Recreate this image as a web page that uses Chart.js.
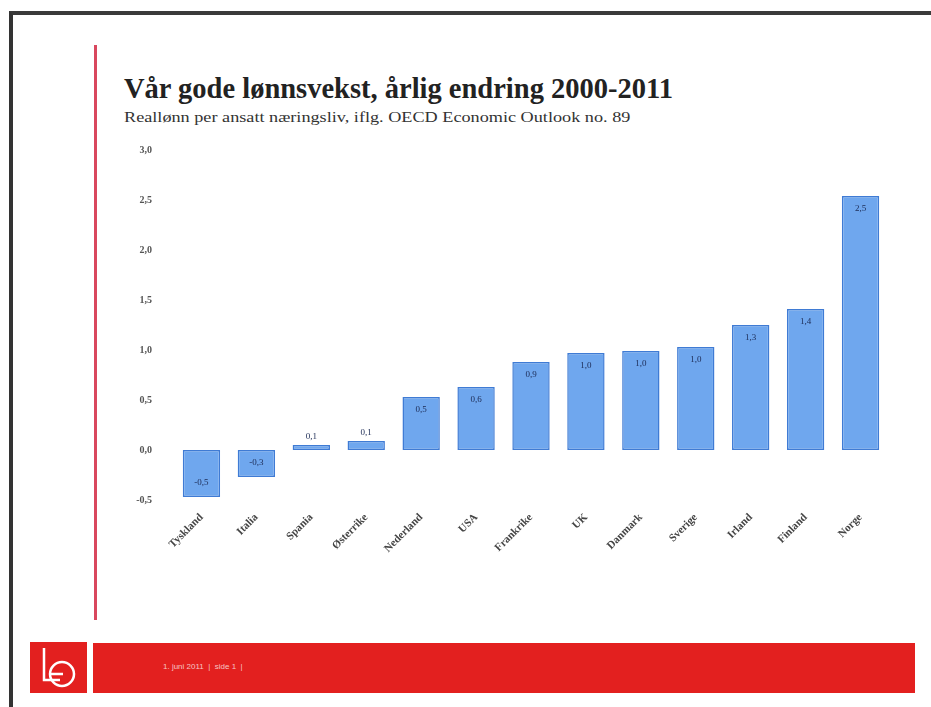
<!DOCTYPE html>
<html>
<head>
<meta charset="utf-8">
<script src="https://cdn.jsdelivr.net/npm/chart.js@4"></script>
<style>
  body { margin: 0; background: #fff; width: 931px; height: 707px; overflow: hidden; position: relative; font-family: "Liberation Serif", serif; }
  .frame { position: absolute; left: 9px; top: 11px; width: 940px; height: 692px; border-left: 4px solid #333; border-top: 4px solid #3a3a3a; border-bottom: 1px solid #999; }
  .redline { position: absolute; left: 94px; top: 45px; width: 3px; height: 575px; background: #d9475e; }
  .title { position: absolute; left: 124px; top: 73px; font-size: 28.5px; font-weight: bold; color: #222; white-space: nowrap; }
  .subtitle { position: absolute; left: 124px; top: 110px; font-size: 14px; color: #333; white-space: nowrap; transform: scaleX(1.3); transform-origin: left top; }
  .logo { position: absolute; left: 30px; top: 642px; width: 57px; height: 51px; background: #e3201f; }
  .band { position: absolute; left: 93px; top: 643px; width: 822px; height: 50px; background: #e3201f; }
  .band span { position: absolute; left: 70px; top: 19px; font-size: 8px; color: #f6c3c3; font-family: "Liberation Sans", sans-serif; }
  #wrap { position: absolute; left: 110px; top: 130px; width: 790px; height: 450px; }
</style>
</head>
<body>
<div class="frame"></div>
<div class="redline"></div>
<div class="title">Vår gode lønnsvekst, årlig endring 2000-2011</div>
<div class="subtitle">Reallønn per ansatt næringsliv, iflg. OECD Economic Outlook no. 89</div>
<div class="logo">
  <svg width="57" height="51" viewBox="0 0 57 51">
    <path d="M14 6 V38 H30" fill="none" stroke="#fff" stroke-width="2.5"/>
    <circle cx="32" cy="32" r="12" fill="none" stroke="#fff" stroke-width="2.5"/>
    <path d="M20 32 H33" stroke="#fff" stroke-width="2.5"/>
  </svg>
</div>
<div class="band"><span>1. juni 2011 &nbsp;|&nbsp; side 1 &nbsp;|</span></div>
<div id="wrap"><canvas id="lonnChart"></canvas></div>
<script>
const countries = ['Tyskland', 'Italia', 'Spania', 'Østerrike', 'Nederland', 'USA', 'Frankrike', 'UK', 'Danmark', 'Sverige', 'Irland', 'Finland', 'Norge'];
const growth = [-0.47, -0.27, 0.05, 0.09, 0.53, 0.63, 0.88, 0.97, 0.99, 1.03, 1.25, 1.41, 2.54];
const growthLabels = ['-0,5', '-0,3', '0,1', '0,1', '0,5', '0,6', '0,9', '1,0', '1,0', '1,0', '1,3', '1,4', '2,5'];
const yTicks = [-0.5, 0, 0.5, 1.0, 1.5, 2.0, 2.5, 3.0];

const fmt = v => v.toFixed(1).replace('.', ',');

// small value labels in / over the bars
const barLabels = {
  id: 'barLabels',
  afterDatasetsDraw(chart) {
    const ctx = chart.ctx;
    const meta = chart.getDatasetMeta(0);
    ctx.save();
    ctx.font = '9px "Liberation Serif", serif';
    ctx.fillStyle = '#1c2b55';
    ctx.textAlign = 'center';
    ctx.textBaseline = 'middle';
    meta.data.forEach((bar, i) => {
      const v = growth[i];
      let y;
      if (v < 0) y = bar.y - 14;
      else if (v < 0.3) y = bar.y - 8;
      else y = bar.y + 13;
      ctx.fillText(growthLabels[i], bar.x, y);
    });
    ctx.restore();
  }
};

const ctx = document.getElementById('lonnChart').getContext('2d');
const lonnChart = new Chart(ctx, {
  type: 'bar',
  data: {
    labels: countries,
    datasets: [{
      data: growth,
      backgroundColor: '#6fa7ee',
      borderColor: '#3f7bd4',
      borderWidth: 1.5,
      borderSkipped: false,
      categoryPercentage: 1,
      barPercentage: 0.68
    }]
  },
  options: {
    responsive: true,
    maintainAspectRatio: false,
    animation: false,
    layout: { padding: { top: 19, right: 12, left: 0, bottom: 0 } },
    plugins: { legend: { display: false }, tooltip: { enabled: false } },
    scales: {
      x: {
        grid: { display: false },
        border: { display: false },
        afterFit: s => { s.height = 80; },
        ticks: {
          minRotation: 45,
          maxRotation: 45,
          color: '#444',
          font: { family: '"Liberation Serif", serif', size: 11, weight: 'bold' }
        }
      },
      y: {
        min: -0.5,
        max: 3.0,
        grid: { display: false },
        border: { display: false },
        afterFit: s => { s.width = 64; },
        afterBuildTicks: s => { s.ticks = yTicks.map(v => ({ value: v })); },
        ticks: {
          padding: 14,
          color: '#555',
          font: { family: '"Liberation Serif", serif', size: 10, weight: 'bold' },
          callback: v => fmt(v)
        }
      }
    }
  },
  plugins: [barLabels]
});
</script>
</body>
</html>
